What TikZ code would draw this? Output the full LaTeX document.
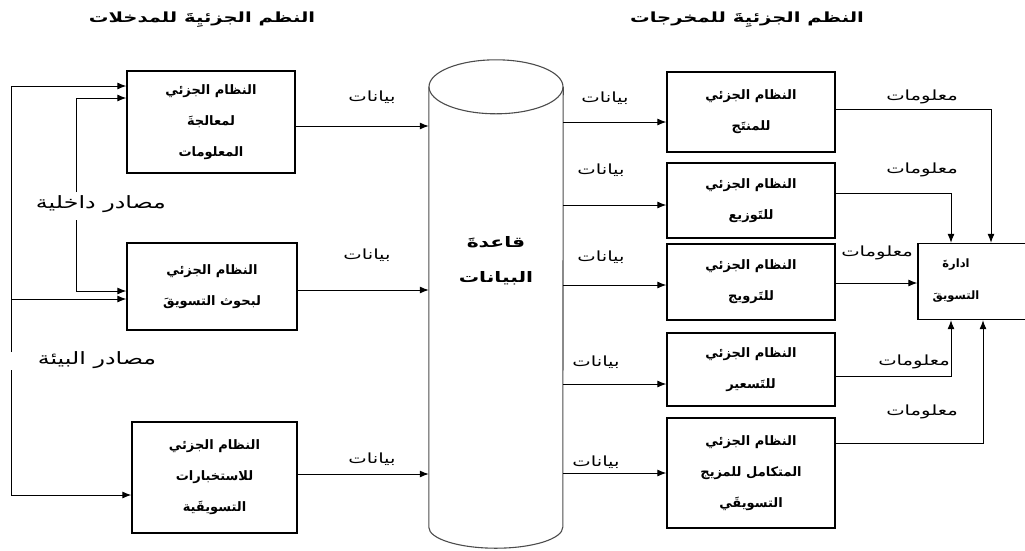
\documentclass[tikz,border=0pt]{standalone}
\usepackage{fontspec}
\usetikzlibrary{arrows.meta}
\TeXXeTstate=1
\newfontfamily\arabicfont[Script=Arabic]{DejaVu Sans}
\newfontfamily\arabicwide[Script=Arabic, FakeStretch=1.4]{DejaVu Sans}
\newcommand\arl[1]{\beginR #1\endR}
\begin{document}
\begin{tikzpicture}[x=1pt,y=-1pt,
  box/.style={draw, line width=1.3pt, align=center, inner sep=0pt,
    font=\arabicfont\bfseries\fontsize{13}{31}\selectfont},
  arr/.style={-{Latex[length=9pt,width=7pt]}, line width=1pt},
  lbl/.style={font=\arabicwide\fontsize{14}{15}\selectfont, inner sep=0pt},
  side/.style={font=\arabicwide\fontsize{17}{19}\selectfont, inner sep=0pt},
  ttl/.style={font=\arabicwide\bfseries\fontsize{14}{18}\selectfont, inner sep=0pt},
  dbtxt/.style={align=center, inner sep=0pt, font=\arabicwide\bfseries\fontsize{14.5}{35}\selectfont},
  mgt/.style={align=center, inner sep=0pt, font=\arabicfont\bfseries\fontsize{11.5}{32}\selectfont},
  cyl/.style={draw=black!70, line width=1.1pt}]
\useasboundingbox (0,0) rectangle (1025,550);

% titles
\node[ttl] (t1) at (202,20) {\arl{النظم الجزئيِةَ للمدخلات}};
\node[ttl] (t2) at (747,20) {\arl{النظم الجزئيِةَ للمخرجات}};

% input boxes
\node[box, minimum width=168pt, minimum height=102pt] (A) at (211,122)
  {\arl{النظام الجزئي}\\\arl{لمعالجةَ}\\\arl{المعلومات}};
\node[box, minimum width=170pt, minimum height=87pt] (B) at (212,286.5)
  {\arl{النظام الجزئي}\\\arl{لبحوث التسويقَ}};
\node[box, minimum width=165pt, minimum height=111pt] (C) at (214.5,477.5)
  {\arl{النظام الجزئي}\\\arl{للاستخبارات}\\\arl{التسويقَية}};

% database cylinder
\node[minimum width=134pt, minimum height=440pt, inner sep=0pt] (db) at (496,307) {};
\draw[cyl] (db.north west) -- (db.south west)
  arc[start angle=180, end angle=360, x radius=67pt, y radius=21pt]
  -- (db.north east);
\draw[cyl] (db.north) ellipse[x radius=67pt, y radius=27pt];
\node[dbtxt] (dbt) at (496,261) {\arl{قاعدةَ}\\\arl{البيانات}};

% output boxes
\node[box, minimum width=168pt, minimum height=80pt] (P) at (751,112)
  {\arl{النظام الجزئي}\\\arl{للمنتَج}};
\node[box, minimum width=168pt, minimum height=75pt] (D) at (751,200.5)
  {\arl{النظام الجزئي}\\\arl{للتَوزيع}};
\node[box, minimum width=168pt, minimum height=76pt] (T) at (751,282)
  {\arl{النظام الجزئي}\\\arl{للتَرويج}};
\node[box, minimum width=168pt, minimum height=73pt] (S) at (751,369.5)
  {\arl{النظام الجزئي}\\\arl{للتَسعير}};
\node[box, minimum width=168pt, minimum height=110pt] (M) at (751,473)
  {\arl{النظام الجزئي}\\\arl{المتكامل للمزيج}\\\arl{التسويقَي}};

% marketing management
\node[draw, line width=1.3pt, minimum width=110pt, minimum height=76pt] (I) at (973,281.5) {};
\node[mgt] (It) at (956,281) {\arl{ادارةَ}\\\arl{التسويقَ}};

% source lines (left)
\coordinate (o1) at (11,86);
\coordinate (o2) at (11,352);
\coordinate (o3) at (11,370);
\coordinate (o4) at (11,495);
\coordinate (ob) at (11,299);
\coordinate (i1) at (76,98);
\coordinate (i2) at (76,192);
\coordinate (i3) at (76,220);
\coordinate (i4) at (76,291);
\draw[arr] (o2) -- (o1) -- (o1 -| A.west);
\draw[arr] (o3) -- (o4) -- (o4 -| C.west);
\draw[arr] (ob) -- (ob -| B.west);
\draw[arr] (i2) -- (i1) -- (i1 -| A.west);
\draw[arr] (i3) -- (i4) -- (i4 -| B.west);
\node[side] (s1) at (101,204) {\arl{مصادر داخلية}};
\node[side] (s2) at (97,360) {\arl{مصادر البيئة}};

% data into database
\coordinate (a1) at ([yshift=-4pt]A.east);
\coordinate (b1) at ([yshift=-3.5pt]B.east);
\coordinate (c1) at ([yshift=3.5pt]C.east);
\draw[arr] (a1) -- (a1 -| db.west);
\draw[arr] (b1) -- (b1 -| db.west);
\draw[arr] (c1) -- (c1 -| db.west);
\node[lbl] (la) at (372,97) {\arl{بيانات}};
\node[lbl] (lb) at (367,255) {\arl{بيانات}};
\node[lbl] (lc) at (372,459) {\arl{بيانات}};

% data out of database
\coordinate (p1) at ([yshift=-10pt]P.west);
\coordinate (d1) at ([yshift=-4.5pt]D.west);
\coordinate (t1a) at ([yshift=-3pt]T.west);
\coordinate (s1a) at ([yshift=-14.5pt]S.west);
\coordinate (m1) at (M.west);
\draw[arr] (p1 -| db.east) -- (p1);
\draw[arr] (d1 -| db.east) -- (d1);
\draw[arr] (t1a -| db.east) -- (t1a);
\draw[arr] (s1a -| db.east) -- (s1a);
\draw[arr] (m1 -| db.east) -- (m1);
\node[lbl] (lp) at (605,98) {\arl{بيانات}};
\node[lbl] (ld) at (601,170) {\arl{بيانات}};
\node[lbl] (lt) at (601,257) {\arl{بيانات}};
\node[lbl] (ls) at (596,362) {\arl{بيانات}};
\node[lbl] (lm) at (596,462) {\arl{بيانات}};

% information to management
\coordinate (p2) at ([yshift=3pt]P.east);
\coordinate (d2) at ([yshift=7.5pt]D.east);
\coordinate (t2a) at ([yshift=-1pt]T.east);
\coordinate (s2a) at ([yshift=-6.5pt]S.east);
\coordinate (m2) at ([yshift=30pt]M.east);
\coordinate (n1) at ([xshift=18pt]I.north);
\coordinate (n2) at ([xshift=-22pt]I.north);
\coordinate (n3) at ([xshift=-22pt]I.south);
\coordinate (n4) at ([xshift=10pt]I.south);
\draw[arr] (p2) -| (n1);
\draw[arr] (d2) -| (n2);
\draw[arr] (t2a) -- (t2a -| I.west);
\draw[arr] (s2a) -| (n3);
\draw[arr] (m2) -| (n4);
\node[lbl] (ip) at (922,97) {\arl{معلومات}};
\node[lbl] (id) at (922,170) {\arl{معلومات}};
\node[lbl] (it) at (877,253) {\arl{معلومات}};
\node[lbl] (is) at (914,362) {\arl{معلومات}};
\node[lbl] (im) at (922,412) {\arl{معلومات}};
\end{tikzpicture}
\end{document}
